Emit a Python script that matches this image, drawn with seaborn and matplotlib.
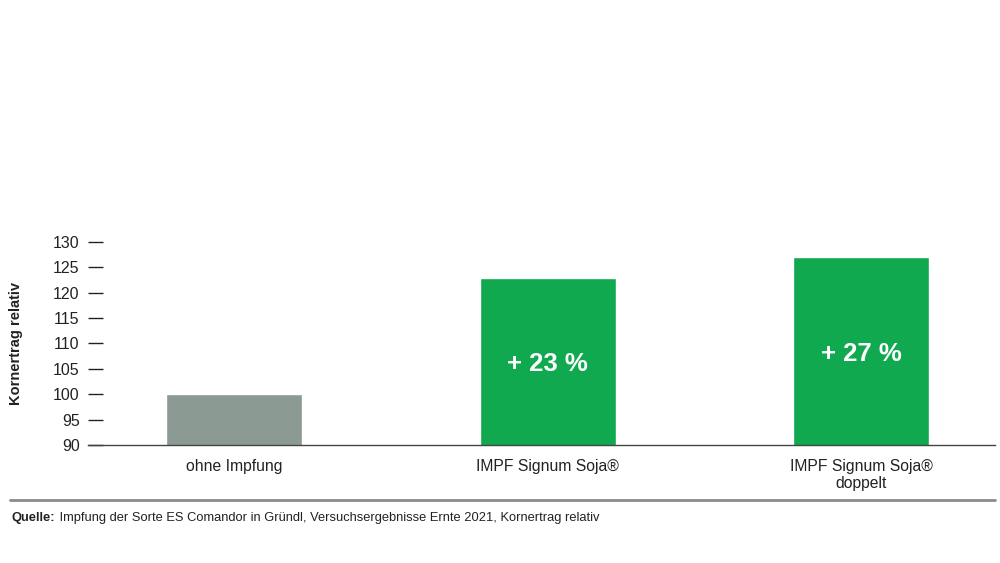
import pandas as pd
import matplotlib.pyplot as plt
import seaborn as sns

# Daten
kategorien = ["ohne Impfung", "IMPF Signum Soja®", "IMPF Signum Soja®\ndoppelt"]
ertrag = [100, 123, 127]
plus_labels = ["", "+ 23 %", "+ 27 %"]
farben = ["#8b9b93", "#11a94f", "#11a94f"]
y_ticks = [90, 95, 100, 105, 110, 115, 120, 125, 130]

df = pd.DataFrame({"kategorie": kategorien, "ertrag": ertrag})

sns.set_style("white")
plt.rcParams["font.family"] = ["Liberation Sans", "DejaVu Sans"]
text_col = "#222222"

fig = plt.figure(figsize=(10, 5.63), dpi=100)
ax = fig.add_axes([0.088, 0.2096, 0.907, 0.3606])

sns.barplot(data=df, x="kategorie", y="ertrag", hue="kategorie",
            palette=farben, legend=False, width=0.434, saturation=1, ax=ax)

ax.set_ylim(90, 130)
ax.set_xlim(-0.466, 2.427)
ax.set_yticks(y_ticks)
ax.tick_params(axis="y", left=True, direction="in", length=11, width=1,
               color=text_col, pad=6, labelsize=11.5, labelcolor=text_col)
ax.tick_params(axis="x", bottom=False, length=0, pad=10, labelsize=11.3,
               labelcolor=text_col)

for s in ["top", "right", "left"]:
    ax.spines[s].set_visible(False)
ax.spines["bottom"].set_color("#444444")
ax.spines["bottom"].set_linewidth(1)

ax.set_xlabel("")
ax.set_ylabel("Kornertrag relativ", fontsize=10.5, fontweight="bold",
              color=text_col)
ax.yaxis.set_label_coords(-0.072, 0.5)

# Prozent-Beschriftungen in den Balken
for i, lab in enumerate(plus_labels):
    if lab:
        ax.text(i, (90 + ertrag[i]) / 2 - 0.6, lab, ha="center", va="center",
                color="white", fontsize=18.5, fontweight="bold")

# Quelle
fig.add_artist(plt.Line2D([0.01, 0.995], [1 - 500 / 563] * 2,
                          color="#8a8a8a", linewidth=2))
t = fig.text(0.012, 1 - 518 / 563, "Quelle:", fontsize=9.3, fontweight="bold",
             color=text_col, va="center")
ax.annotate(" Impfung der Sorte ES Comandor in Gründl, Versuchsergebnisse Ernte 2021, Kornertrag relativ",
            xy=(1, 0.5), xycoords=t, va="center", ha="left",
            fontsize=9.3, color=text_col, annotation_clip=False)

fig.savefig("out.png", dpi=100)
